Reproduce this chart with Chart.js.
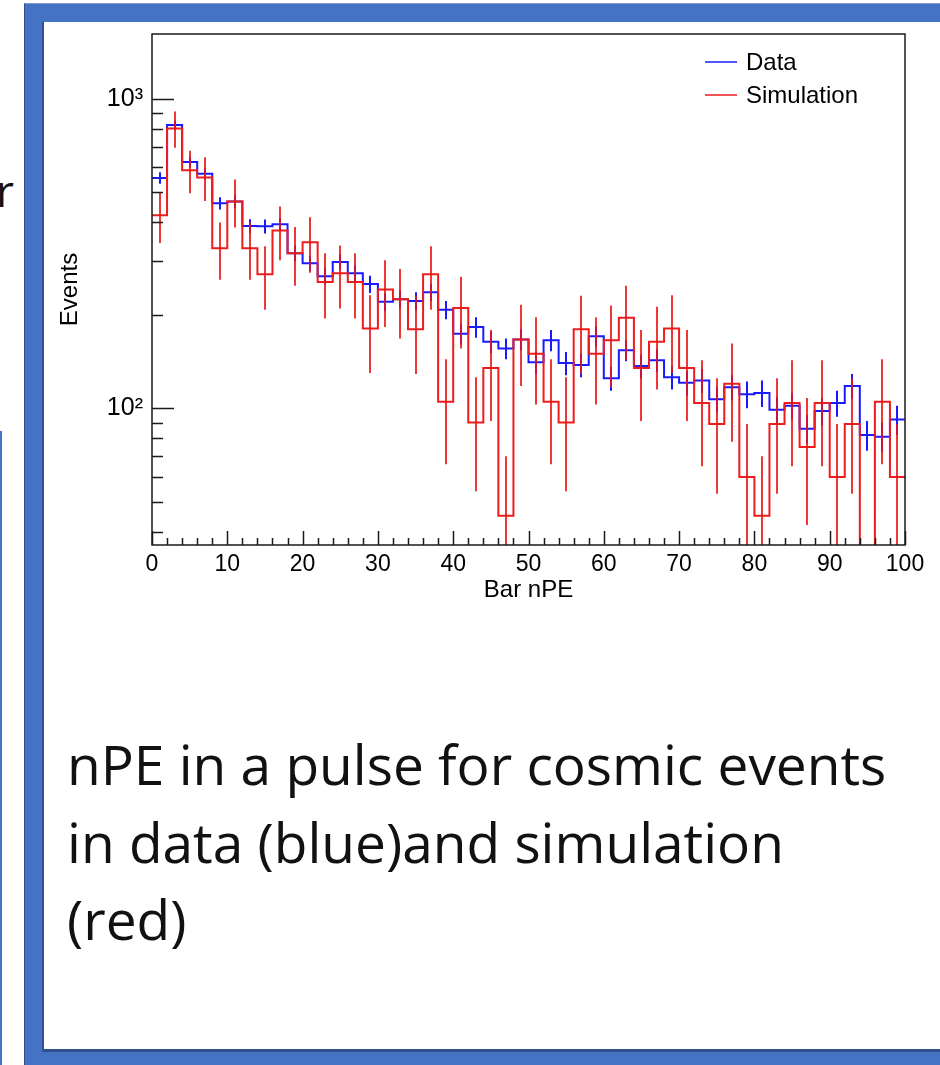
<!DOCTYPE html>
<html>
<head>
<meta charset="utf-8">
<script src="https://cdn.jsdelivr.net/npm/chart.js@4.4.1/dist/chart.umd.min.js"></script>
<style>
  html, body { margin: 0; padding: 0; background: #fff; }
  body { width: 940px; height: 1065px; position: relative; overflow: hidden; }
  #frame { position: absolute; left: 24px; top: 3px; width: 960px; height: 1100px; background: #4472c4;
           border-left: 1px solid #2f528f; border-top: 1px solid #7f9bd3; box-sizing: border-box; }
  #inner { position: absolute; left: 42px; top: 22px; width: 940px; height: 1030px; background: #fff;
           border-left: 2px solid #2f528f; border-bottom: 3px solid #2f528f; box-sizing: border-box; }
  #edge { position: absolute; left: 0; top: 431px; width: 2px; height: 700px; background: #4472c4; }
  #cut { position: absolute; left: -4px; top: 160px; font: 44px 'Open Sans'; color: #111; }
  #chart { position: absolute; left: 0; top: 0; }
  #caption { position: absolute; left: 67px; top: 725px; font-family: 'Open Sans'; font-size: 55px;
             line-height: 77.5px; color: #111; white-space: nowrap; }
</style>
</head>
<body>
<div id="edge"></div>
<div id="cut">r</div>
<div id="frame"></div>
<div id="inner"></div>
<canvas id="chart" width="940" height="640"></canvas>
<div id="caption">nPE in a pulse for cosmic events<br>in data (blue)and simulation<br>(red)</div>

<script>
// bins of 2 nPE from 0 to 100 (low edges)
var binLow = [0, 2, 4, 6, 8, 10, 12, 14, 16, 18, 20, 22, 24, 26, 28, 30, 32, 34, 36, 38,
              40, 42, 44, 46, 48, 50, 52, 54, 56, 58, 60, 62, 64, 66, 68, 70, 72, 74, 76, 78,
              80, 82, 84, 86, 88, 90, 92, 94, 96, 98];
var binWidth = 2;

var dataCounts = [555, 822, 625, 572, 460, 466, 388, 387, 393, 317, 294, 267, 297, 273, 252, 221, 225, 222, 237, 208,
                  174, 183, 164, 156, 167, 141, 166, 140, 138, 171, 125, 154, 137, 143, 126, 121, 123, 107, 117, 111,
                  112, 99, 102, 86, 98, 104, 118, 82, 81, 92];
var dataErrors = [24, 29, 25, 24, 21, 22, 20, 20, 20, 18, 17, 16, 17, 17, 16, 15, 15, 15, 15, 14,
                  13, 14, 13, 12, 13, 12, 13, 12, 12, 13, 11, 12, 12, 12, 11, 11, 11, 10, 11, 11,
                  11, 10, 10, 9, 10, 10, 11, 9, 9, 10];

var simCounts = [420, 802, 587, 557, 329, 466, 329, 271, 375, 317, 344, 256, 273, 256, 181, 242, 225, 180, 271, 105,
                 211, 90, 135, 45, 167, 150, 105, 90, 180, 150, 166, 196, 135, 164, 181, 135, 104, 89, 120, 60,
                 45, 89, 104, 75, 104, 60, 89, 30, 105, 60];
var simErrors = [78, 108, 92, 90, 69, 82, 69, 63, 74, 68, 70, 61, 63, 61, 51, 59, 57, 51, 63, 39,
                 55, 36, 44, 25, 49, 47, 39, 36, 51, 47, 49, 53, 44, 49, 51, 44, 39, 36, 42, 29,
                 25, 36, 39, 33, 39, 29, 36, 0, 39, 29];

var xTickStep = 10;
var yLabels = { 100: '10\u00b2', 1000: '10\u00b3' };
var yMinor = [40, 50, 60, 70, 80, 90, 200, 300, 400, 500, 600, 700, 800, 900];

function stepPoints(counts) {
  var pts = counts.map(function(c, i) { return { x: binLow[i], y: c }; });
  pts.push({ x: binLow[binLow.length - 1] + binWidth, y: counts[counts.length - 1] });
  return pts;
}

var FONT = "'Liberation Sans', Arial, sans-serif";

var histPlugin = {
  id: 'hist',
  afterDatasetDraw: function(chart, args) {
    var ds = chart.data.datasets[args.index];
    var ctx = chart.ctx, area = chart.chartArea;
    var xs = chart.scales.x, ys = chart.scales.y;
    ctx.save();
    ctx.beginPath();
    ctx.rect(area.left, area.top, area.right - area.left, area.bottom - area.top);
    ctx.clip();
    ctx.strokeStyle = ds.errColor;
    ctx.lineWidth = 2;
    ds.counts.forEach(function(c, i) {
      var e = ds.errors[i];
      if (!e) return;
      var px = Math.round(xs.getPixelForValue(binLow[i] + binWidth / 2));
      var lo = c - e;
      var yLo = lo <= ys.min ? area.bottom + 5 : ys.getPixelForValue(lo);
      var yHi = ys.getPixelForValue(c + e);
      ctx.beginPath();
      ctx.moveTo(px, yLo);
      ctx.lineTo(px, yHi);
      ctx.stroke();
    });
    ctx.restore();
  },
  afterDraw: function(chart) {
    var ctx = chart.ctx, area = chart.chartArea;
    var xs = chart.scales.x, ys = chart.scales.y;
    ctx.save();
    ctx.strokeStyle = '#1a1a1a';
    ctx.lineWidth = 1.5;
    ctx.strokeRect(area.left, area.top, area.right - area.left, area.bottom - area.top);
    // x ticks (inside, ROOT style)
    for (var v = 0; v <= 100; v += 2) {
      var px = Math.round(xs.getPixelForValue(v)) + 0.5;
      var len = (v % xTickStep === 0) ? 14 : 7;
      ctx.beginPath();
      ctx.moveTo(px, area.bottom);
      ctx.lineTo(px, area.bottom - len);
      ctx.stroke();
    }
    // y ticks
    Object.keys(yLabels).forEach(function(k) {
      var py = Math.round(ys.getPixelForValue(+k)) + 0.5;
      ctx.beginPath();
      ctx.moveTo(area.left, py);
      ctx.lineTo(area.left + 22, py);
      ctx.stroke();
    });
    yMinor.forEach(function(m) {
      var py = Math.round(ys.getPixelForValue(m)) + 0.5;
      ctx.beginPath();
      ctx.moveTo(area.left, py);
      ctx.lineTo(area.left + 11, py);
      ctx.stroke();
    });
    // legend
    ctx.font = '24px ' + FONT;
    ctx.textBaseline = 'middle';
    chart.data.datasets.forEach(function(ds, i) {
      var ly = area.top + 28 + i * 33;
      var lx = area.right - 200;
      ctx.strokeStyle = ds.borderColor;
      ctx.lineWidth = 1.5;
      ctx.beginPath();
      ctx.moveTo(lx, ly); ctx.lineTo(lx + 32, ly);
      ctx.stroke();
      ctx.fillStyle = '#000';
      ctx.fillText(ds.label, lx + 41, ly + 1);
    });
    ctx.restore();
  }
};

new Chart(document.getElementById('chart').getContext('2d'), {
  type: 'line',
  data: {
    datasets: [
      {
        label: 'Data',
        data: stepPoints(dataCounts),
        counts: dataCounts,
        errors: dataErrors,
        stepped: true,
        borderColor: '#1a1aff',
        errColor: '#1a1aff',
        borderWidth: 2,
        pointRadius: 0,
        fill: false,
        order: 2
      },
      {
        label: 'Simulation',
        data: stepPoints(simCounts),
        counts: simCounts,
        errors: simErrors,
        stepped: true,
        borderColor: '#ee1c1c',
        errColor: 'rgba(235, 20, 20, 0.85)',
        borderWidth: 2,
        pointRadius: 0,
        fill: false,
        order: 1
      }
    ]
  },
  options: {
    responsive: false,
    animation: false,
    devicePixelRatio: 1,
    layout: { padding: { top: 34, right: 35, left: 0, bottom: 0 } },
    plugins: { legend: { display: false }, tooltip: { enabled: false } },
    scales: {
      x: {
        type: 'linear',
        min: 0,
        max: 100,
        grid: { display: false, drawTicks: false },
        border: { display: false },
        ticks: { stepSize: xTickStep, padding: 6, color: '#000', font: { family: FONT, size: 23 }, maxRotation: 0 },
        title: { display: true, text: 'Bar nPE', color: '#000', font: { family: FONT, size: 24 }, padding: { top: 0, bottom: 35 } },
        afterFit: function(s) { s.height = 95; }
      },
      y: {
        type: 'logarithmic',
        min: 36.2,
        max: 1618,
        grid: { display: false, drawTicks: false },
        border: { display: false },
        afterBuildTicks: function(s) { s.ticks = Object.keys(yLabels).map(function(k) { return { value: +k }; }); },
        ticks: {
          autoSkip: false,
          padding: 9,
          color: '#000',
          font: { family: FONT, size: 25 },
          callback: function(v) { return yLabels[v] || ''; }
        },
        title: { display: true, text: 'Events', color: '#000', font: { family: FONT, size: 24 }, padding: { top: 56, bottom: 0 } },
        afterFit: function(s) { s.width = 152; }
      }
    }
  },
  plugins: [histPlugin]
});
</script>
</body>
</html>
